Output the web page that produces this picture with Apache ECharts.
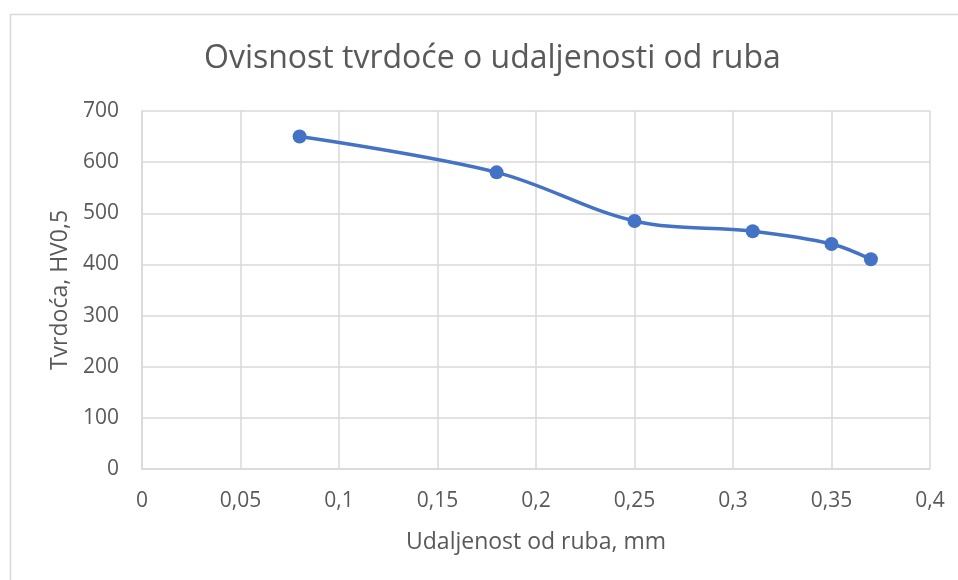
<!DOCTYPE html>
<html>
<head>
<meta charset="utf-8">
<script src="https://cdn.jsdelivr.net/npm/echarts@6/dist/echarts.min.js"></script>
<style>
  html, body { margin: 0; padding: 0; background: #ffffff; }
  #chart { width: 958px; height: 580px; }
</style>
</head>
<body>
<div id="chart"></div>
<script>
// Hardness measured at increasing distance from the edge
const distanceMm = [0.08, 0.18, 0.25, 0.31, 0.35, 0.37];
const hardnessHV = [650, 580, 485, 465, 440, 410];

const xTicks = { min: 0, max: 0.4, interval: 0.05 };
const yTicks = { min: 0, max: 700, interval: 100 };

const titleText = 'Ovisnost tvrdoće o udaljenosti od ruba';
const xAxisName = 'Udaljenost od ruba, mm';
const yAxisName = 'Tvrdoća, HV0,5';

const textColor = '#595959';
const gridColor = '#d9d9d9';
const lineColor = '#4472C4';
const fontFamily = '"Open Sans", "Noto Sans", sans-serif';

const points = distanceMm.map((x, i) => [x, hardnessHV[i]]);

const chart = echarts.init(document.getElementById('chart'), null, { renderer: 'canvas' });

chart.setOption({
  animation: false,
  backgroundColor: '#ffffff',
  graphic: [{
    type: 'rect',
    left: 8,
    top: 12,
    shape: { width: 980, height: 600 },
    style: { fill: 'none', stroke: gridColor, lineWidth: 1.5 },
    silent: true,
    z: -1
  }],
  title: {
    text: titleText,
    left: 199,
    top: 38,
    textStyle: {
      color: textColor,
      fontFamily: fontFamily,
      fontWeight: 'normal',
      fontSize: 32
    }
  },
  grid: {
    left: 142,
    right: 28,
    top: 111,
    bottom: 111
  },
  xAxis: {
    type: 'value',
    min: xTicks.min,
    max: xTicks.max,
    interval: xTicks.interval,
    name: xAxisName,
    nameLocation: 'middle',
    nameGap: 62,
    nameTextStyle: { color: textColor, fontFamily: fontFamily, fontSize: 23 },
    axisLine: { show: true, lineStyle: { color: gridColor, width: 1.5 } },
    axisTick: { show: false },
    axisLabel: {
      color: textColor,
      fontFamily: fontFamily,
      fontSize: 21,
      margin: 22,
      formatter: v => String(+v.toFixed(2)).replace('.', ',')
    },
    splitLine: { show: true, lineStyle: { color: gridColor, width: 1.5 } }
  },
  yAxis: {
    type: 'value',
    min: yTicks.min,
    max: yTicks.max,
    interval: yTicks.interval,
    name: yAxisName,
    nameLocation: 'middle',
    nameGap: 68,
    nameTextStyle: { color: textColor, fontFamily: fontFamily, fontSize: 23 },
    axisLine: { show: true, lineStyle: { color: gridColor, width: 1.5 } },
    axisTick: { show: false },
    axisLabel: {
      color: textColor,
      fontFamily: fontFamily,
      fontSize: 21,
      margin: 23
    },
    splitLine: { show: true, lineStyle: { color: gridColor, width: 1.5 } }
  },
  series: [{
    type: 'line',
    data: points,
    smooth: 0.35,
    symbol: 'circle',
    symbolSize: 14,
    itemStyle: { color: lineColor },
    lineStyle: { color: lineColor, width: 3.5 }
  }]
});
</script>
</body>
</html>
